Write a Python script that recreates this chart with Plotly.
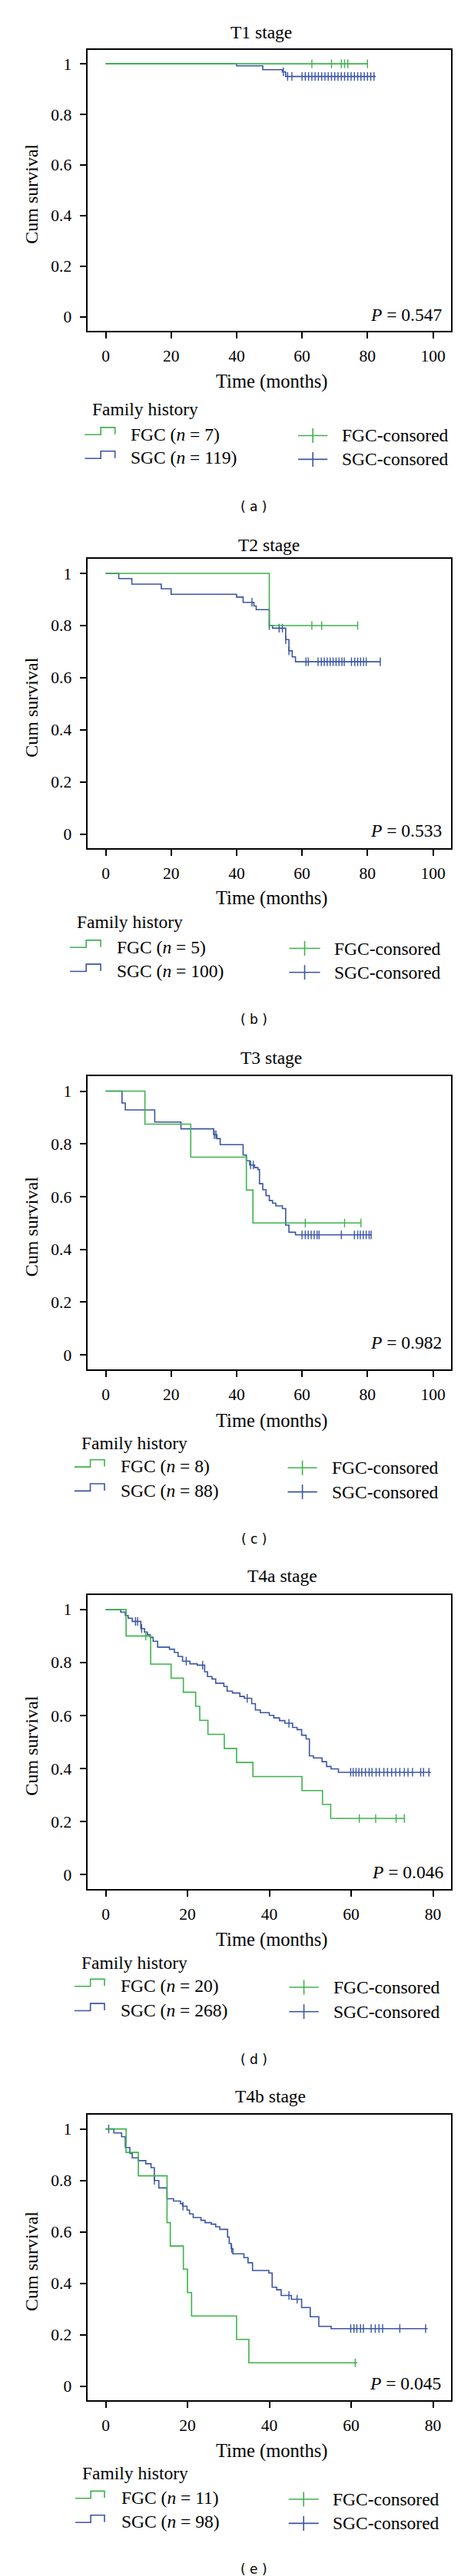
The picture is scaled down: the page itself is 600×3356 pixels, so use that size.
import numpy as np
import plotly.graph_objects as go

# ---------------- data ----------------
# T1
t1_fgc_time = [0, 80]
t1_fgc_surv = [1, 1]
t1_fgc_cens = [63, 69, 72, 73, 74, 80]
t1_sgc_time = [0, 40, 48, 54, 55, 82.5]
t1_sgc_surv = [1, 0.992, 0.977, 0.968, 0.95, 0.95]
t1_sgc_cens = [54.3, 55.6, 56.9, 60, 61, 62, 63, 64, 65, 66, 67, 68, 69, 70, 71,
               72, 73, 74, 75, 76, 77, 78, 79, 80, 81, 82]

# T2
t2_fgc_time = [0, 50, 77]
t2_fgc_surv = [1, 0.8, 0.8]
t2_fgc_cens = [63, 66, 77]
t2_sgc_time = [0, 4, 8, 17, 20, 40, 42, 45.3, 46, 50, 51, 55, 56, 57, 58, 84]
t2_sgc_surv = [1, 0.98, 0.959, 0.941, 0.92, 0.909, 0.889, 0.875, 0.861, 0.80, 0.79,
               0.746, 0.703, 0.68, 0.661, 0.661]
t2_sgc_cens = [44.7, 50, 53, 54, 55, 56, 61.2, 61.9, 64.9, 65.9, 66.8, 67.7, 68.6, 69.5,
               70.4, 71.3, 72.2, 72.9, 75.1, 76.1, 77.0, 77.9, 78.8, 79.6, 83.9]

# T3
t3_fgc_time = [0, 12, 26, 43, 45, 78]
t3_fgc_surv = [1, 0.875, 0.75, 0.625, 0.5, 0.5]
t3_fgc_cens = [61, 73, 78]
t3_sgc_time = [0, 5, 6, 15, 23, 33, 34, 35, 42, 43, 44, 45.5, 46.5, 47, 48, 49, 50, 51,
               52, 54, 55, 56, 58, 81.3]
t3_sgc_surv = [1, 0.955, 0.929, 0.883, 0.857, 0.835, 0.82, 0.797, 0.758, 0.736, 0.72,
               0.71, 0.703, 0.649, 0.626, 0.604, 0.585, 0.575, 0.565, 0.555, 0.492,
               0.465, 0.455, 0.455]
t3_sgc_cens = [33.2, 33.7, 44.3, 45.1, 60, 61, 61.9, 62.8, 63.7, 64.6, 65.2, 72, 76, 77,
               77.8, 78.7, 79.6, 80.5, 81.1]

# T4a
t4a_fgc_time = [0, 5, 11, 16, 19, 22, 23, 25, 29, 32, 36, 48, 53, 55, 73]
t4a_fgc_surv = [1, 0.9, 0.794, 0.741, 0.688, 0.635, 0.582, 0.529, 0.476, 0.423, 0.370,
                0.317, 0.265, 0.212, 0.212]
t4a_fgc_cens = [9.8, 62, 66, 71, 73]
t4a_sgc_time = [0, 3.7, 4.8, 5.5, 6.5, 8.6, 9.5, 10.2, 10.9, 11.6, 12.7, 15.6, 16.8,
                17.7, 18.8, 20.6, 22.4, 24.2, 24.9, 26, 26.9, 28.9, 29.7, 31, 32.8, 33.9,
                35.7, 36.6, 37.8, 40, 41.1, 42.5, 43.8, 45.7, 46.8, 47.9, 49, 49.8, 50.8,
                52.9, 54, 55.1, 56.9, 79.5]
t4a_sgc_surv = [1, 0.99, 0.977, 0.967, 0.955, 0.928, 0.915, 0.905, 0.895, 0.88, 0.858,
                0.85, 0.838, 0.823, 0.805, 0.795, 0.79, 0.765, 0.747, 0.738, 0.722, 0.71,
                0.692, 0.685, 0.672, 0.665, 0.645, 0.621, 0.611, 0.601, 0.591, 0.581,
                0.571, 0.555, 0.547, 0.526, 0.512, 0.448, 0.44, 0.426, 0.408, 0.399,
                0.386, 0.386]
t4a_sgc_cens = [7.3, 7.8, 8.8, 19.7, 23.7, 34.6, 44.8, 59.9, 60.5, 61.2, 61.9, 62.6,
                63.5, 64.4, 65.1, 66.1, 66.9, 68.0, 68.9, 69.9, 70.9, 71.9, 73.0, 73.9,
                75.0, 77.0, 77.7, 79.0]

# T4b
t4b_fgc_time = [0, 5, 8, 15, 15.8, 19, 20, 21, 32, 35, 61.5]
t4b_fgc_surv = [1, 0.909, 0.818, 0.636, 0.545, 0.455, 0.364, 0.273, 0.182, 0.091, 0.091]
t4b_fgc_cens = [61]
t4b_sgc_time = [0, 2, 3.9, 4.8, 5.9, 6.5, 8, 9.8, 11.1, 11.9, 13, 15, 16.6, 18.3, 18.8,
                19.9, 20.5, 21.4, 23.3, 24.3, 25.8, 26.9, 27.9, 29.8, 30.2, 30.7, 31.1,
                33.8, 34.8, 35.9, 39.9, 40.7, 41.8, 42.9, 45.4, 47.9, 50, 52.1, 55.1, 78.7]
t4b_sgc_surv = [1, 0.985, 0.97, 0.928, 0.905, 0.888, 0.877, 0.865, 0.85, 0.80, 0.771,
                0.729, 0.72, 0.71, 0.70, 0.685, 0.67, 0.656, 0.645, 0.636, 0.63, 0.62,
                0.61, 0.58, 0.555, 0.535, 0.515, 0.50, 0.48, 0.45, 0.44, 0.385, 0.375,
                0.353, 0.338, 0.306, 0.27, 0.233, 0.224, 0.224]
t4b_sgc_cens = [0.75, 11.9, 18.9, 30.8, 44.8, 46.8, 59.9, 60.7, 61.4, 62.3, 63.0, 64.9,
                65.9, 66.8, 67.7, 71.9, 78.2]

stage_titles = ["T1 stage", "T2 stage", "T3 stage", "T4a stage", "T4b stage"]
n_fgc = [7, 5, 8, 20, 11]
n_sgc = [119, 100, 88, 268, 98]
p_values = ["0.547", "0.533", "0.982", "0.046", "0.045"]
panel_tags = ["a", "b", "c", "d", "e"]
x_ticks = [[0, 20, 40, 60, 80, 100]] * 3 + [[0, 20, 40, 60, 80]] * 2
y_ticks = [0, 0.2, 0.4, 0.6, 0.8, 1]
y_tick_text = ["0", "0.2", "0.4", "0.6", "0.8", "1"]

curves = [
    (t1_fgc_time, t1_fgc_surv, t1_fgc_cens, t1_sgc_time, t1_sgc_surv, t1_sgc_cens),
    (t2_fgc_time, t2_fgc_surv, t2_fgc_cens, t2_sgc_time, t2_sgc_surv, t2_sgc_cens),
    (t3_fgc_time, t3_fgc_surv, t3_fgc_cens, t3_sgc_time, t3_sgc_surv, t3_sgc_cens),
    (t4a_fgc_time, t4a_fgc_surv, t4a_fgc_cens, t4a_sgc_time, t4a_sgc_surv, t4a_sgc_cens),
    (t4b_fgc_time, t4b_fgc_surv, t4b_fgc_cens, t4b_sgc_time, t4b_sgc_surv, t4b_sgc_cens),
]

# ---------------- layout (pixels) ----------------
W, H = 600, 3356
GREEN = "#3db34b"
BLUE = "#3a55a5"
SERIF = "Liberation Serif"
BOX_L, BOX_R = 105.5, 579.3
TXT = 23.5

# title x,y | box top,bottom | P right,y | x-title y | fam-hist x,y | rows | left icon, text | right icon, text | tag y
geo = [
    dict(tx=331.7, ty=33.5, top=56.7, bot=422.8, px=569.3, py=402.3, xty=488.8, fhx=110, fhy=525.4,
         r1=557.5, r2=588.4, li=(102.3, 141.7), lt=160, ri=(380, 418.3), rt=435, tag=651.8),
    dict(tx=341.7, ty=702, top=720, bot=1097.3, px=569.2, py=1074, xty=1162, fhx=90, fhy=1193.3,
         r1=1225.5, r2=1256.7, li=(83, 123), lt=142.3, ri=(368.4, 408.6), rt=425.4, tag=1320.5),
    dict(tx=344.6, ty=1369.6, top=1394.3, bot=1776, px=569.2, py=1740.7, xty=1843, fhx=95.6, fhy=1872.4,
         r1=1902.3, r2=1933.6, li=(88.7, 128), lt=146.5, ri=(366.5, 404.7), rt=421.6, tag=1997.4),
    dict(tx=359, ty=2045.2, top=2069.5, bot=2453.3, px=570.8, py=2430.8, xty=2518.8, fhx=96.4, fhy=2548.7,
         r1=2579, r2=2610.7, li=(89, 128), lt=147.3, ri=(368.4, 406.7), rt=423.9, tag=2674.5),
    dict(tx=343.5, ty=2723, top=2746.9, bot=3119.2, px=567.7, py=3096.7, xty=3185.4, fhx=96.8, fhy=3213.8,
         r1=3246, r2=3277.4, li=(90, 128), lt=148, ri=(367.7, 406.7), rt=423.3, tag=3339.3),
]


def px(x):
    return x / W


def py(y):
    return 1 - y / H


def at_time(times, surv, t):
    idx = np.searchsorted(np.array(times), np.array(t), side="right") - 1
    return list(np.array(surv)[idx])


fig = go.Figure()
annotations = []
shapes = []
layout_axes = {}

for i, (ft, fs, fc, st, ss, sc) in enumerate(curves):
    g = geo[i]
    xa = "x" if i == 0 else f"x{i + 1}"
    ya = "y" if i == 0 else f"y{i + 1}"
    xmax = x_ticks[i][-1]
    unit = (555.5 - 129.5) / xmax
    xr = [(BOX_L - 129.5) / unit, (BOX_R - 129.5) / unit]

    for tt, ss_, cc, col in [(st, ss, sc, BLUE), (ft, fs, fc, GREEN)]:
        fig.add_trace(go.Scatter(x=tt, y=ss_, mode="lines", line_shape="hv",
                                 line=dict(color=col, width=1.6), xaxis=xa, yaxis=ya,
                                 showlegend=False, hoverinfo="skip"))
        fig.add_trace(go.Scatter(x=cc, y=at_time(tt, ss_, cc), mode="markers",
                                 marker=dict(symbol="line-ns", size=8, line=dict(color=col, width=1.4)),
                                 xaxis=xa, yaxis=ya, showlegend=False, hoverinfo="skip"))

    axis_common = dict(showgrid=False, zeroline=False, showline=True, mirror=True,
                       linecolor="black", linewidth=2, ticks="outside", ticklen=8,
                       tickwidth=1.6, tickcolor="black",
                       tickfont=dict(family=SERIF, size=21.5, color="black"))
    layout_axes["xaxis" if i == 0 else f"xaxis{i + 1}"] = dict(
        axis_common, domain=[px(BOX_L), px(BOX_R)], range=xr, tickvals=x_ticks[i],
        anchor=ya, ticklabelstandoff=4)
    layout_axes["yaxis" if i == 0 else f"yaxis{i + 1}"] = dict(
        axis_common, domain=[py(g["bot"]), py(g["top"])], range=[-0.055, 1.056],
        tickvals=y_ticks, ticktext=y_tick_text, anchor=xa, ticklabelstandoff=6)

    def txt(text, x, y, size=TXT, xanchor="left", family=SERIF, angle=0):
        annotations.append(dict(text=text, x=px(x), y=py(y), xref="paper", yref="paper",
                                xanchor=xanchor, yanchor="middle", showarrow=False,
                                textangle=angle, font=dict(family=family, size=size, color="black")))

    txt(stage_titles[i], g["tx"], g["ty"], xanchor="center")
    txt(f"<i>P</i> = {p_values[i]}", g["px"], g["py"], xanchor="right")
    txt("Time (months)", 345, g["xty"], size=24.5, xanchor="center")
    txt("Cum survival", 33, (g["top"] + g["bot"]) / 2 + 5, size=24, xanchor="center", angle=-90)
    txt("Family history", g["fhx"], g["fhy"])
    txt(f"FGC (<i>n</i> = {n_fgc[i]})", g["lt"], g["r1"])
    txt(f"SGC (<i>n</i> = {n_sgc[i]})", g["lt"], g["r2"])
    txt("FGC-consored", g["rt"], g["r1"] + 2)
    txt("SGC-consored", g["rt"], g["r2"] + 2)
    txt(f"( {panel_tags[i]} )", 322.7, g["tag"], size=17, xanchor="center", family="DejaVu Sans")

    # legend keys
    for row, col in [(g["r1"], GREEN), (g["r2"], BLUE)]:
        a, b = g["li"]
        m = a + 0.53 * (b - a)
        base, high = row + 0.8, row - 8.6
        shapes.append(dict(type="path", xref="paper", yref="paper",
                           path=f"M{px(a)},{py(base)} L{px(m)},{py(base)} L{px(m)},{py(high)} "
                                f"L{px(b)},{py(high)} L{px(b)},{py(base - 0.5)}",
                           line=dict(color=col, width=1.6)))
        a, b = g["ri"]
        yc = row + 2
        shapes.append(dict(type="line", xref="paper", yref="paper", x0=px(a), x1=px(b),
                           y0=py(yc), y1=py(yc), line=dict(color=col, width=1.6)))
        shapes.append(dict(type="line", xref="paper", yref="paper", x0=px((a + b) / 2),
                           x1=px((a + b) / 2), y0=py(yc - 9.5), y1=py(yc + 9.5),
                           line=dict(color=col, width=1.6)))

fig.update_layout(width=W, height=H, autosize=False, margin=dict(l=0, r=0, t=0, b=0),
                  paper_bgcolor="white", plot_bgcolor="white", showlegend=False,
                  annotations=annotations, shapes=shapes, **layout_axes)
fig.write_html("out.html")
